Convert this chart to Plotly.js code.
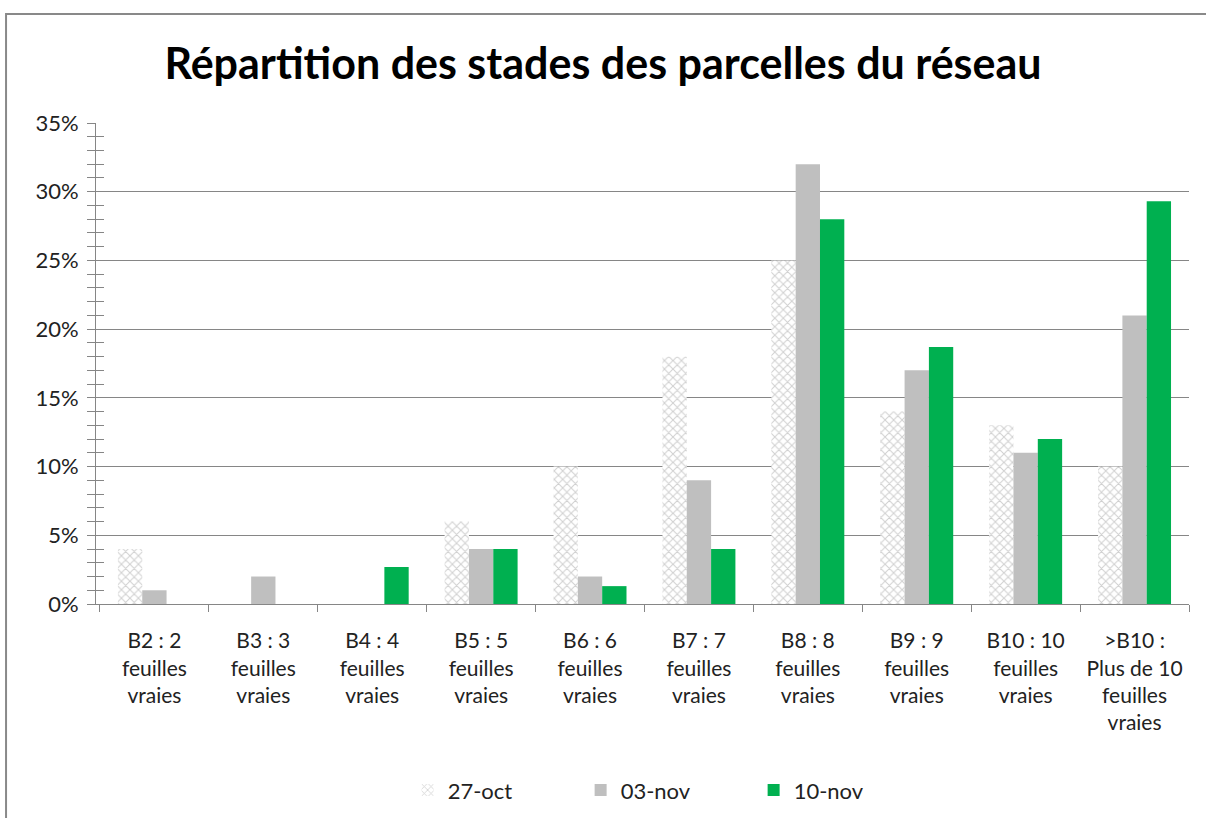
<!DOCTYPE html>
<html><head><meta charset="utf-8">
<script src="https://cdn.plot.ly/plotly-3.0.1.min.js"></script>
<style>html,body{margin:0;padding:0;background:#fff}#chart{width:1206px;height:818px}</style>
</head><body><div id="chart"></div>
<script>
const categories = [
  "B2 : 2<br>feuilles<br>vraies",
  "B3 : 3<br>feuilles<br>vraies",
  "B4 : 4<br>feuilles<br>vraies",
  "B5 : 5<br>feuilles<br>vraies",
  "B6 : 6<br>feuilles<br>vraies",
  "B7 : 7<br>feuilles<br>vraies",
  "B8 : 8<br>feuilles<br>vraies",
  "B9 : 9<br>feuilles<br>vraies",
  "B10 : 10<br>feuilles<br>vraies",
  ">B10 :<br>Plus de 10<br>feuilles<br>vraies"
];
const seriesNames = ["27-oct", "03-nov", "10-nov"];
const oct27 = [0.04, 0, 0, 0.06, 0.10, 0.18, 0.25, 0.14, 0.13, 0.10];
const nov03 = [0.01, 0.02, 0, 0.04, 0.02, 0.09, 0.32, 0.17, 0.11, 0.21];
const nov10 = [0, 0, 0.027, 0.04, 0.013, 0.04, 0.28, 0.187, 0.12, 0.293];
const yTickVals = [0, 0.05, 0.10, 0.15, 0.20, 0.25, 0.30, 0.35];
const yTickText = ["0%", "5%", "10%", "15%", "20%", "25%", "30%", "35%"];

const font = "Lato, 'Open Sans', sans-serif";
const traces = [
  {type:"bar", name:seriesNames[0], x:categories, y:oct27,
   marker:{color:"#ffffff", pattern:{shape:"x", fgcolor:"#d0d0d0", bgcolor:"#ffffff", size:6, solidity:0.3}, line:{width:0}}},
  {type:"bar", name:seriesNames[1], x:categories, y:nov03,
   marker:{color:"#bfbfbf", line:{width:0}}},
  {type:"bar", name:seriesNames[2], x:categories, y:nov10,
   marker:{color:"#00b050", line:{width:0}}},
  {type:"scatter", x:[categories[0]], y:[0], yaxis:"y2", mode:"markers", marker:{opacity:0}, showlegend:false, hoverinfo:"skip"}
];
const layout = {
  width:1206, height:818,
  margin:{l:96, r:17, t:123, b:214},
  paper_bgcolor:"#fff", plot_bgcolor:"#fff",
  font:{family:font, color:"#000", size:21},
  title:{text:"<b>Répartition des stades des parcelles du réseau</b>", x:0.5, xanchor:"center", y:0.922, yanchor:"middle",
         font:{family:font, size:43, color:"#000"}},
  barmode:"group", bargap:0.33, bargroupgap:0,
  xaxis:{type:"category", showline:true, linecolor:"#868686", linewidth:1, ticks:"outside", ticklen:7, tickcolor:"#868686",
         tickson:"boundaries", tickangle:0, showgrid:false, tickfont:{family:font, size:21, color:"#222"}, ticklabelstandoff:18, automargin:false},
  yaxis:{range:[0,0.35], tickvals:yTickVals, ticktext:yTickText, showline:true, linecolor:"#868686", linewidth:1,
         ticks:"outside", ticklen:8, tickcolor:"#868686", showgrid:true, gridcolor:"#868686", gridwidth:1,
         minor:{dtick:0.01, tick0:0, ticks:"outside", ticklen:8, tickcolor:"#868686", showgrid:false},
         tickfont:{family:font, size:22, color:"#222"}, ticklabelstandoff:4, zeroline:false, automargin:false},
  yaxis2:{overlaying:"y", range:[0,0.35], tickvals:yTickVals, showticklabels:false, ticks:"inside", ticklen:8, tickcolor:"#868686",
          minor:{dtick:0.01, tick0:0, ticks:"inside", ticklen:8, tickcolor:"#868686", showgrid:false},
          showgrid:false, zeroline:false, showline:false, fixedrange:true},
  showlegend:true,
  legend:{orientation:"h", xref:"container", yref:"container", x:0.338, xanchor:"left", y:0.034, yanchor:"middle",
          entrywidth:128, entrywidthmode:"pixels", font:{family:font, size:22, color:"#222"}, itemwidth:30},
  shapes:[{type:"rect", xref:"paper", yref:"paper", x0:-0.0823, x1:1.3, y0:-1, y1:1.2266,
           line:{color:"#898989", width:2}, fillcolor:"rgba(0,0,0,0)", layer:"below"}]
};
Plotly.newPlot("chart", traces, layout, {displayModeBar:false, staticPlot:true});
</script></body></html>
